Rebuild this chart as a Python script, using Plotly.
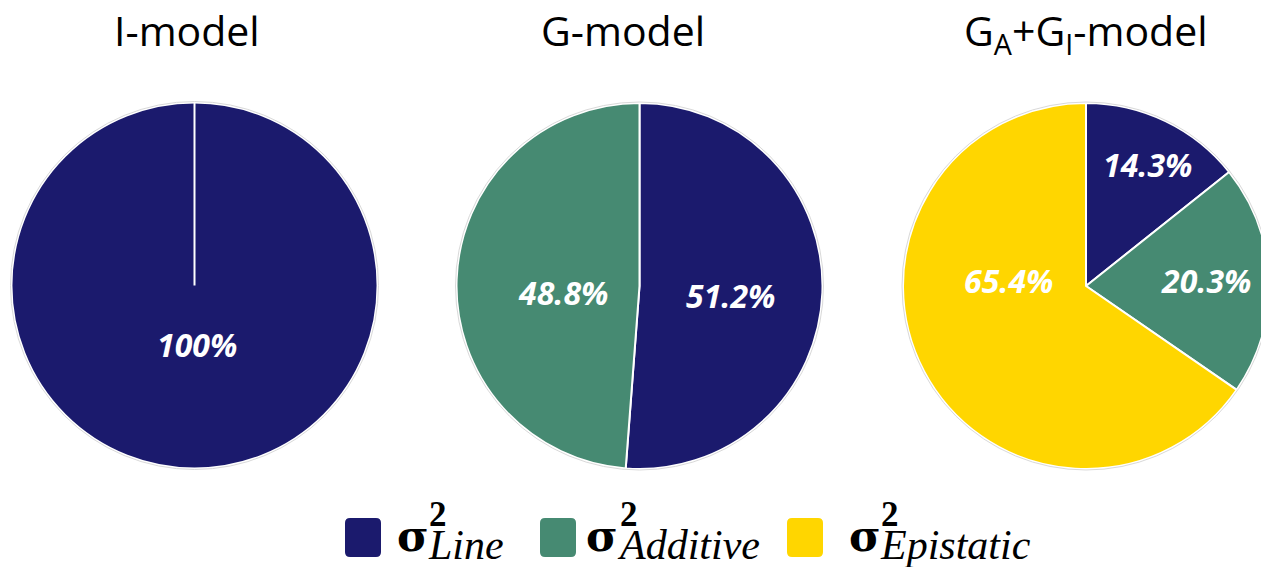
import plotly.graph_objects as go

# Variance components (%) per model
models = ["I-model", "G-model", "G<sub>A</sub>+G<sub>I</sub>-model"]
components = ["Line", "Additive", "Epistatic"]
i_model = [100.0]
g_model = [51.2, 48.8]
ga_gi_model = [14.3, 20.3, 65.4]
series = [i_model, g_model, ga_gi_model]

colors = {"Line": "#1B1A6D", "Additive": "#468A72", "Epistatic": "#FFD600"}

W, H = 1270, 567


def px(x):
    return x / W


def py(y):
    return 1 - y / H


# pie centres / radius in pixels
centers = [(194.5, 285.5), (639.5, 286.0), (1086.0, 286.0)]
R = 183.0
# label offsets from pie centre (pixels), one per slice
label_offsets = [
    [(2, 59)],
    [(91, 9), (-77, 6)],
    [(61, -121), (120, -6), (-78, -6)],
]
title_x = [187, 623, 1086]

fig = go.Figure()
shapes = []
annotations = []

for k, vals in enumerate(series):
    cx, cy = centers[k]
    labs = components[: len(vals)]
    fig.add_trace(go.Pie(
        values=vals,
        labels=labs,
        sort=False,
        direction="clockwise",
        rotation=0,
        marker=dict(colors=[colors[c] for c in labs], line=dict(color="white", width=2)),
        textinfo="none",
        hoverinfo="label+percent",
        showlegend=False,
        domain=dict(x=[px(cx - R), px(cx + R)], y=[py(cy + R), py(cy - R)]),
    ))
    # thin grey rim
    shapes.append(dict(type="circle", xref="paper", yref="paper",
                       x0=px(cx - R - 1), x1=px(cx + R + 1),
                       y0=py(cy + R + 1), y1=py(cy - R - 1),
                       line=dict(color="#D9D9D9", width=1)))
    if len(vals) == 1:
        # seam of the single full slice
        shapes.append(dict(type="line", xref="paper", yref="paper",
                           x0=px(cx), x1=px(cx), y0=py(cy), y1=py(cy - R),
                           line=dict(color="white", width=2)))
    for v, (dx, dy) in zip(vals, label_offsets[k]):
        annotations.append(dict(
            x=px(cx + dx), y=py(cy + dy), xref="paper", yref="paper",
            text=f"<b><i>{v:g}%</i></b>", showarrow=False,
            xanchor="center", yanchor="middle",
            font=dict(family="Open Sans", size=32, color="white"),
        ))
    annotations.append(dict(
        x=px(title_x[k]), y=py(0), xref="paper", yref="paper", text=models[k],
        showarrow=False, xanchor="center", yanchor="top",
        font=dict(family="Open Sans", size=41, color="black"),
    ))

# custom legend: rounded swatches + sigma^2 with stacked sub/superscript
legend_x = [345, 540, 787]
sigma_x = [398, 587, 850]
for c, sx, gx in zip(components, legend_x, sigma_x):
    x0, x1, y0, y1, r = sx, sx + 36, 518, 557, 5
    path = (f"M {px(x0 + r)},{py(y0)} L {px(x1 - r)},{py(y0)} "
            f"Q {px(x1)},{py(y0)} {px(x1)},{py(y0 + r)} L {px(x1)},{py(y1 - r)} "
            f"Q {px(x1)},{py(y1)} {px(x1 - r)},{py(y1)} L {px(x0 + r)},{py(y1)} "
            f"Q {px(x0)},{py(y1)} {px(x0)},{py(y1 - r)} L {px(x0)},{py(y0 + r)} "
            f"Q {px(x0)},{py(y0)} {px(x0 + r)},{py(y0)} Z")
    shapes.append(dict(type="path", xref="paper", yref="paper", path=path,
                       fillcolor=colors[c], line=dict(width=0)))
    annotations.append(dict(
        x=px(gx - 1), y=py(536), xref="paper", yref="paper", text="<b>σ</b>",
        showarrow=False, xanchor="left", yanchor="middle",
        borderpad=0, borderwidth=0,
        font=dict(family="DejaVu Serif", size=43, color="black"),
    ))
    annotations.append(dict(
        x=px(gx + 30), y=py(531), xref="paper", yref="paper",
        text=("<span style='font-size:35px'><b>2</b></span><br>"
              f"<span style='font-size:42px'><i>{c}</i></span>"),
        showarrow=False, xanchor="left", yanchor="middle", align="left",
        borderpad=0, borderwidth=0,
        font=dict(family="Liberation Serif", size=25, color="black"),
    ))

fig.update_layout(
    width=W, height=H,
    margin=dict(l=0, r=0, t=0, b=0),
    paper_bgcolor="white", plot_bgcolor="white",
    shapes=shapes, annotations=annotations,
)

fig.write_html(
    "out.html",
    post_script="document.documentElement.style.overflow='hidden';"
                "document.body.style.overflow='hidden';document.body.style.margin='0';",
)
